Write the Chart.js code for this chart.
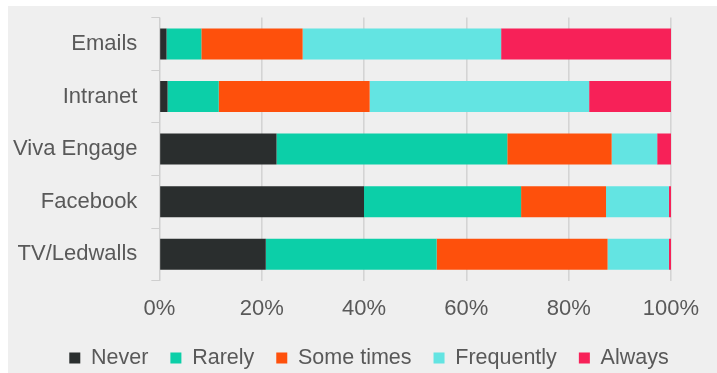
<!DOCTYPE html>
<html>
<head>
<meta charset="utf-8">
<script src="https://cdn.jsdelivr.net/npm/chart.js@4/dist/chart.umd.min.js"></script>
<style>
  html, body { margin: 0; padding: 0; background: #ffffff; }
  #wrap { position: absolute; left: 8px; top: 6px; width: 709px; height: 367px; background: #efefef; }
</style>
</head>
<body>
<div id="wrap"><canvas id="myChart" width="709" height="367"></canvas></div>
<script>
// categories and series (percent of respondents)
var canales = ["Emails", "Intranet", "Viva Engage", "Facebook", "TV/Ledwalls"];
var never      = [1.4, 1.6, 22.9, 40.0, 20.8];
var rarely     = [6.8, 10.0, 45.1, 30.7, 33.4];
var someTimes  = [19.8, 29.5, 20.4, 16.6, 33.4];
var frequently = [38.8, 42.9, 8.9, 12.3, 12.0];
var always     = [33.2, 16.0, 2.7, 0.4, 0.4];
var xTicks = [0, 20, 40, 60, 80, 100];

var fuente = "'Liberation Sans', Arial, Helvetica, sans-serif";
var gris = "#595959";

function serie(label, data, color)
{
    return {
        label: label,
        data: data,
        backgroundColor: color,
        borderWidth: 0,
        barPercentage: 0.59,
        categoryPercentage: 1
    };
}

// the axis paddings are dropped so the layout padding places the plot area
function sinPadding(axis)
{
    axis.paddingTop = 0;
    axis.paddingBottom = 0;
    axis.paddingLeft = 0;
    axis.paddingRight = 0;
}

// legend sits a bit to the right of the canvas centre in the original
var moverLeyenda = {
    id: 'moverLeyenda',
    afterLayout: function(chart) {
        chart.legend.left += 34;
        chart.legend.right += 34;
    }
};

var ctx = document.getElementById("myChart").getContext('2d');
var myChart = new Chart(ctx, {
    type: 'bar',
    data: {
        labels: canales,
        datasets: [
            serie('Never', never, '#2a2e2e'),
            serie('Rarely', rarely, '#0ccfa8'),
            serie('Some times', someTimes, '#fe500c'),
            serie('Frequently', frequently, '#63e4e2'),
            serie('Always', always, '#f72158')
        ]
    },
    plugins: [moverLeyenda],
    options: {
        indexAxis: 'y',
        responsive: false,
        animation: false,
        layout: { padding: { left: -9, right: 46, top: 11.6, bottom: -5.75 } },
        plugins: {
            tooltip: { enabled: false },
            legend: {
                position: 'bottom',
                labels: {
                    color: gris,
                    font: { family: fuente, size: 21.5 },
                    boxWidth: 11,
                    boxHeight: 11,
                    padding: 22
                }
            }
        },
        scales: {
            x: {
                stacked: true,
                min: 0,
                max: 100,
                afterBuildTicks: function(axis) {
                    axis.ticks = xTicks.map(function(v) { return { value: v }; });
                },
                afterFit: function(axis) {
                    sinPadding(axis);
                    axis.height -= 12.55;
                },
                ticks: {
                    color: gris,
                    font: { family: fuente, size: 22 },
                    padding: 15.4,
                    callback: function(v) { return v + '%'; }
                },
                grid: { color: '#d4d4d4', lineWidth: 1.6, drawTicks: false },
                border: { display: false }
            },
            y: {
                stacked: true,
                afterFit: sinPadding,
                ticks: {
                    color: gris,
                    font: { family: fuente, size: 22 },
                    padding: 14
                },
                grid: { drawOnChartArea: false, drawTicks: true, tickLength: 8, color: '#cfcfcf' },
                border: { display: true, color: '#cfcfcf' }
            }
        }
    }
});
</script>
</body>
</html>
